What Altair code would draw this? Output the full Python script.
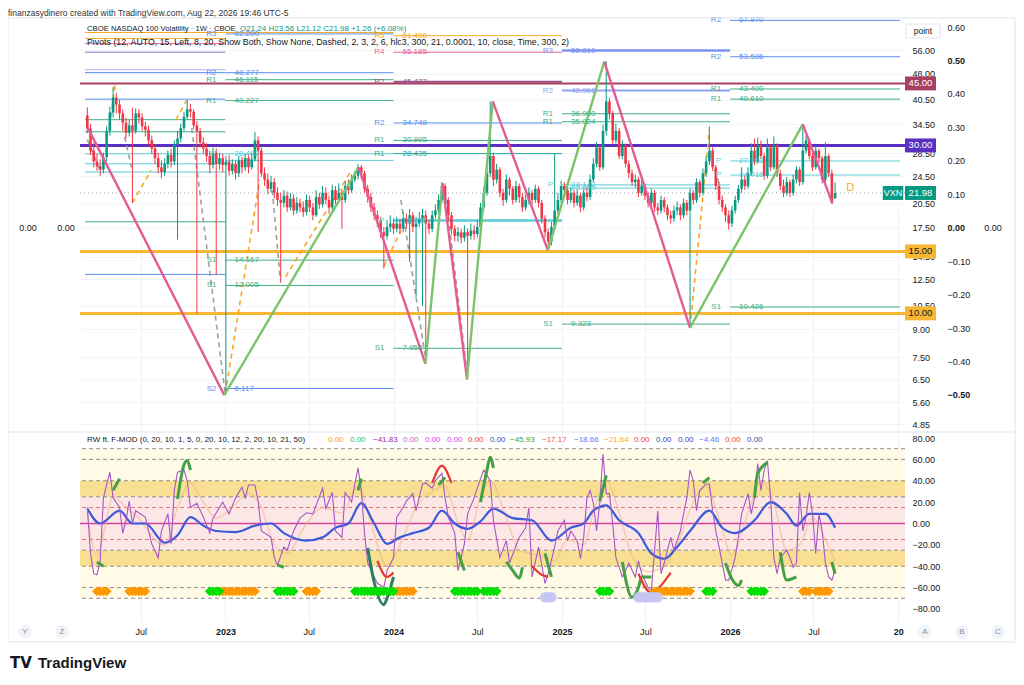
import altair as alt
import numpy as np
import pandas as pd

FONT = "Liberation Sans"
TXT = "#131722"
OX, OY = 80, 18          # page position of the plot origin
W, H = 825, 604

# ---------------------------------------------------------------- data
week0 = "2022-03-07"
first_open = 36.5
last_open = 21.24
closes = [
33.5, 29.0, 27.0, 26.2, 25.6, 27.8, 33.0, 37.2, 41.0, 39.2,
37.0, 34.8, 32.6, 34.2, 33.0, 37.0, 36.0, 34.0, 33.2, 31.0,
29.4, 27.6, 26.0, 25.2, 26.6, 28.2, 27.0, 30.2, 31.4, 33.6,
36.2, 38.0, 37.4, 34.2, 33.0, 30.6, 29.4, 28.0, 26.4, 28.6,
26.6, 27.6, 26.4, 27.0, 25.4, 26.6, 25.0, 27.2, 26.0, 27.6,
26.0, 27.4, 31.0, 29.0, 25.0, 24.0, 22.6, 23.6, 22.0, 21.0,
20.6, 21.6, 20.0, 21.2, 19.6, 20.6, 20.0, 19.4, 21.0, 20.0,
19.0, 21.4, 20.4, 22.0, 21.0, 20.0, 22.4, 21.0, 22.0, 21.0,
23.0, 22.4, 24.0, 24.6, 26.0, 25.0, 22.6, 21.4, 20.0, 19.0,
18.4, 17.0, 16.6, 17.6, 18.0, 17.4, 18.0, 17.4, 18.6, 18.0,
19.0, 17.6, 18.0, 18.6, 19.0, 18.0, 17.4, 19.0, 19.6, 21.0,
23.0, 21.0, 19.0, 17.4, 16.6, 17.0, 16.4, 17.0, 16.6, 17.2,
16.8, 17.6, 20.0, 22.0, 25.0, 28.0, 24.0, 25.6, 22.0, 21.0,
24.0, 22.6, 21.0, 23.0, 21.4, 20.0, 21.0, 22.0, 21.0, 22.6,
20.6, 18.6, 17.0, 16.0, 17.6, 19.6, 21.0, 23.0, 22.4, 21.0,
22.0, 20.6, 21.6, 20.0, 22.0, 21.4, 24.0, 26.6, 29.6, 26.0,
33.0, 40.0, 37.0, 31.0, 33.0, 28.0, 30.0, 26.6, 25.0, 23.6,
24.0, 22.0, 23.0, 21.6, 20.6, 22.0, 20.0, 19.6, 21.0, 20.0,
19.0, 18.6, 19.6, 20.0, 19.0, 20.6, 19.6, 22.0, 21.0, 23.6,
22.0, 25.0, 27.0, 29.0, 26.0, 23.0, 21.0, 20.0, 19.0, 18.0,
19.6, 21.0, 22.6, 24.0, 23.0, 25.0, 29.0, 27.0, 30.0, 28.0,
24.6, 29.6, 26.0, 30.0, 25.0, 23.0, 22.0, 23.6, 22.0, 24.0,
25.6, 23.6, 29.0, 31.0, 28.0, 26.0, 29.0, 27.6, 24.0, 28.0,
25.0, 20.72, 21.98]
highs = [
38.5, 34.5, 30.5, 28.4, 27.4, 28.6, 34.0, 38.6, 44.0, 42.4,
40.4, 38.0, 36.0, 35.4, 38.4, 38.2, 38.0, 37.0, 35.0, 34.2,
32.0, 30.2, 28.6, 27.2, 27.6, 29.0, 29.4, 31.0, 33.0, 34.6,
37.4, 40.4, 39.4, 38.0, 35.2, 33.6, 31.6, 30.4, 29.0, 29.6,
29.4, 28.6, 28.4, 28.0, 28.2, 27.4, 27.2, 28.0, 27.8, 28.4,
28.2, 28.6, 32.8, 31.8, 29.6, 26.0, 25.0, 24.6, 24.2, 22.8,
22.0, 22.4, 22.2, 22.0, 21.8, 21.4, 21.2, 20.8, 21.8, 21.6,
20.6, 22.4, 22.0, 23.0, 22.8, 21.6, 23.2, 23.0, 23.4, 22.6,
23.8, 24.0, 24.8, 25.4, 26.6, 26.4, 25.4, 23.2, 22.0, 20.6,
19.6, 18.8, 17.6, 18.4, 19.0, 18.6, 18.8, 18.6, 19.4, 19.2,
19.8, 19.4, 18.8, 19.4, 19.8, 19.6, 18.4, 19.6, 20.4, 21.8,
23.6, 23.4, 21.4, 19.4, 17.8, 17.6, 17.4, 17.8, 17.4, 18.0,
17.8, 18.4, 20.6, 22.8, 26.4, 40.0, 28.6, 26.6, 26.0, 22.6,
24.8, 24.4, 23.0, 23.8, 23.4, 22.0, 21.8, 22.8, 22.4, 23.2,
23.0, 21.0, 19.0, 17.4, 18.2, 28.4, 22.0, 23.8, 23.6, 22.8,
22.8, 22.4, 22.4, 22.0, 22.6, 22.8, 24.8, 27.6, 30.6, 30.0,
34.4, 52.0, 41.0, 37.6, 34.6, 33.6, 31.0, 30.4, 27.2, 25.6,
24.8, 24.4, 23.8, 23.4, 22.0, 22.6, 22.4, 20.6, 21.6, 21.4,
20.4, 19.6, 20.2, 20.8, 20.4, 21.2, 21.0, 22.6, 22.4, 24.2,
24.0, 25.8, 28.0, 34.0, 29.6, 26.4, 23.6, 21.6, 20.4, 19.6,
20.2, 21.6, 23.2, 26.0, 24.6, 26.0, 30.4, 31.4, 31.6, 31.0,
28.6, 31.4, 30.2, 31.8, 30.4, 25.6, 24.0, 24.4, 24.0, 24.8,
26.2, 26.0, 34.5, 32.0, 31.4, 28.6, 30.0, 29.4, 28.0, 30.6,
28.4, 25.6, 23.56]
lows = [
32.5, 28.2, 26.0, 25.4, 24.6, 25.0, 27.0, 32.0, 36.0, 37.0,
35.6, 33.0, 31.4, 31.8, 20.6, 32.4, 34.6, 33.0, 31.8, 30.0,
28.4, 26.6, 25.0, 24.2, 24.6, 25.8, 26.0, 26.4, 16.2, 30.6,
33.0, 35.6, 36.0, 33.4, 10.0, 29.6, 28.4, 27.0, 25.0, 25.8,
12.9, 25.6, 25.2, 5.9, 24.6, 24.8, 24.0, 24.4, 25.0, 25.4,
25.0, 25.6, 27.0, 17.0, 24.4, 23.0, 21.8, 22.0, 21.2, 20.2,
12.2, 20.0, 19.4, 19.6, 19.0, 19.2, 19.4, 18.8, 19.0, 19.4,
18.4, 18.8, 19.8, 20.0, 20.4, 19.2, 19.6, 20.4, 20.6, 17.4,
20.6, 21.8, 22.0, 23.6, 24.0, 24.0, 22.0, 20.6, 19.4, 18.4,
17.6, 16.4, 13.4, 16.2, 17.0, 16.8, 17.0, 16.8, 17.0, 17.4,
14.0, 17.0, 11.1, 17.6, 10.5, 7.2, 16.8, 17.0, 18.6, 19.2,
20.6, 20.4, 18.4, 16.8, 16.0, 16.0, 15.8, 16.0, 6.5, 16.2,
16.2, 16.4, 17.2, 19.6, 21.6, 24.4, 23.0, 23.4, 21.4, 20.2,
20.6, 21.6, 20.4, 20.6, 20.6, 19.4, 19.6, 20.4, 20.4, 20.6,
20.0, 18.0, 16.4, 15.2, 15.6, 17.2, 19.2, 20.6, 21.6, 20.4,
20.6, 20.0, 20.2, 19.4, 19.6, 20.8, 21.0, 23.6, 26.0, 25.4,
25.6, 32.0, 35.6, 30.2, 30.4, 27.4, 27.4, 26.0, 24.2, 23.0,
22.8, 21.4, 21.6, 21.0, 20.0, 20.2, 19.4, 19.0, 19.2, 19.4,
18.4, 18.0, 18.2, 19.0, 18.4, 18.6, 19.0, 9.1, 20.4, 20.6,
21.4, 21.6, 24.4, 26.4, 25.4, 22.4, 20.4, 19.4, 18.2, 17.3,
17.6, 19.2, 20.6, 22.0, 22.4, 22.6, 24.6, 26.4, 26.6, 27.4,
24.0, 24.2, 25.4, 25.6, 24.4, 22.4, 21.4, 21.6, 21.4, 21.6,
23.4, 23.0, 23.2, 28.4, 27.4, 25.4, 25.6, 26.8, 23.4, 23.6,
24.4, 20.5, 21.12]

# zigzag vertices (week index, value)
zz_week = [0.2, 42.5, 84.2, 104.9, 110.2, 117.8, 125.8, 142.9, 160.4, 187.0, 222.0, 231.2]
zz_value = [33.6, 5.86, 26.0, 7.2, 23.4, 6.5, 40.0, 15.1, 51.9, 9.1, 34.5, 20.5]

orange_dash = [[(6.9, 34.0), (8.6, 44.5)], [(14.0, 20.6), (19.8, 25.5)], [(27.5, 35.5), (30.8, 40.3)],
               [(42.8, 5.9), (53.5, 23.9)], [(61.5, 12.7), (82.0, 25.5)], [(92.0, 13.6), (97.3, 17.2)],
               [(187.0, 9.1), (193.0, 33.2)]]
gray_dash = [[(0.0, 31.2), (3.9, 25.5)], [(11.6, 31.7), (13.7, 26.0)], [(32.4, 33.6), (42.8, 5.9)],
             [(57.4, 22.4), (59.9, 12.4)], [(97.3, 21.0), (105.0, 7.4)], [(111.0, 22.4), (118.0, 6.6)],
             [(193.0, 28.6), (196.0, 23.4)]]

level_values = [45, 30, 15, 10]
level_colors = ["#a8405f", "#5b2fc2", "#f7b733", "#f7b733"]
last_price = 21.98

period_start = ["2022-03-02", "2023-01-01", "2024-01-01", "2025-01-01", "2026-01-01"]
period_end = ["2023-01-01", "2024-01-01", "2025-01-01", "2026-01-01", "2027-01-05"]
piv_period = [0]*15 + [1]*10 + [2]*8 + [3]*7 + [4]*7
piv_value = [62.8, 60.4, 58.4, 55.2, 49.2, 48.3, 40.6, 35.5, 32.8, 28.4, 26.6, 25.2, 18.2, 12.9, 10.0,
             62.8, 62.2, 48.277, 46.115, 40.227, 28.402, 27.2, 14.167, 12.005, 6.117,
             61.498, 55.185, 45.477, 34.748, 30.995, 28.435, 18.352, 7.958,
             55.810, 42.966, 36.900, 35.024, 23.172, 22.690, 9.323,
             67.97, 53.586, 43.400, 40.610, 27.102, 24.716, 10.426]
piv_label = [None]*15 + \
            [None, "R3", "R2", "R1", "R1", "P", None, "S1", "S1", "S2"] + \
            ["R5", "R4", "R2", "R2", "R1", "R1", "P", "S1"] + \
            ["R3", "R2", "R1", "R1", "P", "", "S1"] + \
            ["R2", "R2", "R1", "R1", "P", "P", "S1"]
piv_color = ["#f7a823", "#f7a823", "#ec6a9b", "#8e7cc3", "#a9b2f0", "#5b8ff0", "#5b8ff0", "#3fae85", "#3fae85",
             "#5ccbd8", "#5ccbd8", "#5ccbd8", "#3fae85", "#5b8ff0", "#2e8b57",
             "#f7a823", "#5b8ff0", "#5b8ff0", "#3fae85", "#3fae85", "#5ccbd8", "#5ccbd8", "#3fae85", "#3fae85", "#5b8ff0",
             "#f7a823", "#ec5f95", "#9c4f8a", "#5b8ff0", "#3fae85", "#26a69a", "#5ccbd8", "#3fae85",
             "#7f92ef", "#8fa4f3", "#3fae85", "#3fae85", "#5ccbd8", "#5ccbd8", "#3fae85",
             "#5b8ff0", "#5b8ff0", "#3fae85", "#3fae85", "#5ccbd8", "#5ccbd8", "#3fae85"]
piv_width = [1]*27 + [2] + [1]*3 + [2.5] + [1] + [2.5, 2] + [1]*5 + [1]*7

# oscillator
osc_week = [0, 1, 2, 3, 4, 5, 7, 8, 10, 11, 12, 13, 14, 15, 18, 20, 22, 23, 25, 26, 27, 28, 30, 31, 32, 34, 36, 38, 39,
            42, 44, 46, 48, 49, 50, 52, 53, 54, 57, 58, 59, 61, 62, 64, 66, 68, 70, 73, 74, 76, 77, 79, 80, 82, 83, 84,
            85, 86, 87, 89, 90, 92, 93, 95, 96, 98, 99, 101, 102, 104, 105, 107, 108, 110, 111, 112, 114, 115, 117,
            118, 120, 122, 123, 125, 126, 128, 130, 131, 134, 136, 137, 138, 140, 142, 143, 145, 146, 148, 149, 150,
            152, 153, 154, 155, 156, 157, 158, 159, 160, 161, 162, 163, 164, 166, 167, 168, 170, 171, 172, 174, 175,
            177, 178, 179, 181, 182, 184, 185, 186, 187, 188, 189, 190, 192, 193, 194, 195, 197, 198, 199, 201, 202,
            203, 205, 206, 207, 208, 209, 210, 211, 212, 213, 214, 215, 217, 218, 219, 220, 221, 222, 223, 224, 225,
            226, 227, 228, 229, 230, 231, 232]
osc_value = [15, -28, -47, -48, -35, 24, 48, 24, 15, -9, 3, 21, 0, 12, 6, -19, -32, -7, 9, -19, 31, 48, 50, 40, 15, 19,
             6, -9, 5, 20, 9, 24, 34, 24, 36, 36, 21, -7, -13, -32, -39, -22, -25, -7, 5, 10, 9, 33, 14, 29, -7, -13,
             29, 20, 37, 52, 31, -9, -37, -50, -56, -60, -44, -32, 6, 15, 21, 28, 12, 37, 38, 33, 40, 47, 24, 6, -9,
             -44, -19, 9, 24, 42, 50, 40, 3, -32, -16, -37, -13, -4, 15, -50, -22, -56, -47, -22, -7, 3, -16, -7, -16,
             -33, -13, 24, 31, 19, -7, 19, 65, 28, 28, 0, -32, -50, -44, -37, -50, -35, -47, -60, -63, 12, -47, -37,
             -13, -25, -7, 9, 24, 50, 40, 12, 31, 37, 37, 12, -7, -37, -53, -53, -32, -13, 9, 28, 9, 24, 56, 31, 50, 59,
             24, -32, -47, -32, -25, -32, -41, -37, 29, -7, 6, 29, 9, -28, 9, -7, -37, -50, -53, -44]
blue_week = [0, 4, 10, 14, 18, 24, 28, 32, 36, 40, 46, 52, 57, 61, 68, 73, 77, 81, 85, 89, 93, 97, 101, 106, 110, 114,
             118, 122, 126, 132, 138, 144, 150, 154, 157, 161, 165, 171, 175, 179, 183, 187, 193, 197, 201, 207, 212,
             217, 220, 224, 229, 232]
blue_value = [14, 0, 12, 0, 0, -18, -11, 6, -2, -7, -8, -2, 0, -9, -16, -13, -4, 0, 19, 0, -19, -13, -9, -4, 12, 0,
              -5, 2, 14, 5, 3, -16, -4, 0, 12, 17, 3, -9, -28, -33, -22, -7, 12, -4, -9, 3, 20, 9, -2, 9, 9, -4]
faint_week = [0, 3, 5, 8, 12, 16, 21, 24, 28, 32, 36, 40, 45, 50, 54, 58, 62, 67, 73, 79, 84, 88, 93, 97, 102, 107,
              111, 115, 118, 122, 125, 130, 134, 140, 145, 149, 154, 157, 161, 165, 169, 174, 179, 183, 188, 192, 196,
              200, 205, 209, 213, 217, 221, 225, 229, 232]
faint_value = [10, -30, -10, 25, 15, 5, -15, -20, 15, 38, 20, 5, 15, 28, 15, -20, -28, -5, 15, 10, 35, 0, -40, -20,
               15, 30, 35, 0, -15, 25, 40, 5, -25, -30, -35, -15, -20, 10, 40, 10, -30, -45, -40, -20, 20, 35, 5,
               -30, 10, 40, 20, -25, -20, 5, -15, -35]
green_segs = [[(3, -36), (5, -40)], [(8, 31), (10, 42)], [(28, 23), (30, 55), (31, 59), (32, 50)],
              [(59, -39), (61, -41)], [(84, 31), (85, 42)], [(109, 36), (111, 43)], [(115, -27), (117, -44)],
              [(122, 20), (124, 50), (125, 62), (126, 52)], [(130, -36), (132, -44), (134, -51), (135, -41)],
              [(142, -28), (144, -50)], [(159, 21), (161, 45)],
              [(166, -36), (169, -69), (171, -60), (172, -50), (175, -50)], [(191, 38), (193, 43)],
              [(198, -37), (200, -52), (202, -58), (203, -53)], [(207, 24), (208, 47), (211, 57)],
              [(215, -27), (217, -53), (220, -50)], [(231, -36), (232, -47)]]
teal_segs = [[(87, -23), (89, -55), (92, -76), (93, -70), (95, -50)]]
red_segs = [[(90, -35), (93, -50), (95, -46)], [(107, 38), (110, 54), (113, 38)],
            [(138, -40), (141, -48), (143, -50)], [(171, -47), (175, -65), (178, -58), (181, -46)]]
orange_dia = [3, 4, 5, 6, 13, 14, 15, 16, 17, 18, 42, 43, 44, 45, 46, 47, 48, 49, 50, 51, 52, 68, 69, 70, 71,
              96, 97, 98, 99, 100, 101, 176, 177, 178, 179, 180, 181, 182, 183, 184, 185, 186, 187,
              222, 223, 224, 226, 227, 228, 229, 230]
green_dia = [38, 39, 40, 41, 59, 60, 61, 62, 63, 64, 83, 84, 85, 86, 87, 88, 89, 90, 91, 92, 93, 94, 95,
             114, 115, 116, 117, 118, 119, 120, 121, 123, 124, 125, 126, 127, 159, 160, 161, 162,
             192, 193, 194, 206, 207, 208, 209, 210]
lav_dots = [142, 143, 144, 171, 172, 173, 174, 175, 176, 177]
osc_dash_levels = [70, 60, 40, 25, -25, -40, -60, -70]
osc_pink_levels = [15, -15]

legend_vals = ["0.00", "0.00", "\u221241.83", "0.00", "0.00", "0.00", "0.00", "0.00", "\u221245.93", "\u221217.17",
               "\u221218.66", "\u221221.64", "0.00", "0.00", "0.00", "\u22124.46", "0.00", "0.00"]
legend_cols = ["#ff9800", "#22c55e", "#9c27b0", "#ba68c8", "#e040fb", "#e040fb", "#f44336", "#3949ab", "#43a047",
               "#ef5350", "#5c7cfa", "#ffa726", "#f44336", "#3949ab", "#3949ab", "#5c7cfa", "#f44336", "#3949ab"]
legend_x = [328, 350, 373, 403, 425, 447, 468, 490, 510, 542, 574, 604, 634, 656, 678, 699, 725, 747]

# ---------------------------------------------------------------- helpers
T0 = pd.Timestamp(week0)
def wk(w):
    return T0 + pd.Timedelta(days=7 * float(w))

XS = alt.Scale(domain=[alt.DateTime(year=2022, month=3, date=2), alt.DateTime(year=2027, month=1, date=5)])
tick_dates = [alt.DateTime(year=y, month=m, date=1) for y, m in
              [(2022, 7), (2023, 1), (2023, 7), (2024, 1), (2024, 7), (2025, 1), (2025, 7), (2026, 1), (2026, 7), (2027, 1)]]
XAX = alt.Axis(values=tick_dates, title=None, domain=False, ticks=False, grid=True, gridColor="#f0f3fa",
               labelFontSize=9, labelColor=TXT, labelPadding=5, labelFlush=False, labelFont=FONT,
               labelExpr="month(datum.value) == 0 ? (year(datum.value) == 2027 ? '20' : timeFormat(datum.value, '%Y')) : 'Jul'",
               labelFontWeight={"condition": {"test": "month(datum.value) == 0", "value": "bold"}, "value": "normal"})
def X(f):
    return alt.X(f, scale=XS, axis=XAX)

YT = alt.Scale(type="log", domain=[4.633, 69.04], range=[413, 0], nice=False, zero=False)
YTAX = alt.Axis(orient="right", values=[56, 48, 40.5, 34.5, 28.5, 24.5, 20.5, 17.5, 14.5, 12.5, 10.5, 9, 7.5, 6.5, 5.6, 4.85],
                format=".2f", domain=False, ticks=False, grid=True, gridColor="#f2f4f8", labelPadding=7,
                labelFontSize=9, labelColor=TXT, title=None, labelOverlap=False, labelFont=FONT)
def YTop(f):
    return alt.Y(f, scale=YT, axis=YTAX)

YB = alt.Scale(domain=[-92.2, 84.7], range=[604, 415], nice=False, zero=False)
YBAX = alt.Axis(orient="right", values=list(range(-80, 81, 20)), format=".2f", domain=False, ticks=False, grid=False,
                labelPadding=7, labelFontSize=9, labelColor=TXT, title=None, labelOverlap=False, labelFont=FONT)
def YBot(f):
    return alt.Y(f, scale=YB, axis=YBAX)

YS = alt.Scale(domain=[-0.608, 0.627], range=[413, 0], nice=False, zero=False)
YSAX = alt.Axis(orient="right", offset=40, values=[0.6, 0.5, 0.4, 0.3, 0.2, 0.1, 0.0, -0.1, -0.2, -0.3, -0.4, -0.5],
                format=".2f", domain=False, ticks=False, grid=False, labelPadding=2, labelFontSize=9, labelColor=TXT,
                title=None, labelOverlap=False, labelFont=FONT,
                labelFontWeight={"condition": {"test": "abs(datum.value) < 0.001 || abs(abs(datum.value) - 0.5) < 0.001",
                                               "value": "bold"}, "value": "normal"})

ONE = pd.DataFrame({"k": [0]})
def T(s, px, py, size=8, color=TXT, align="left", weight="normal", font=FONT):
    return alt.Chart(ONE).mark_text(text=s, align=align, baseline="middle", fontSize=size, color=color,
                                    fontWeight=weight, font=font).encode(x=alt.value(px - OX), y=alt.value(py - OY))

def segs_df(seglist):
    rows = []
    for k, s in enumerate(seglist):
        for j, (w, v) in enumerate(s):
            rows.append({"seg": k, "ord": j, "date": wk(w), "v": v})
    return pd.DataFrame(rows)

def pairs_df(seglist):
    return pd.DataFrame([{"x0": wk(a[0]), "x1": wk(b[0]), "y0": a[1], "y1": b[1]} for a, b in seglist])

# ---------------------------------------------------------------- top panel
n = len(closes)
assert len(highs) == n and len(lows) == n
opens = [first_open] + closes[:n - 2] + [last_open]
cdf = pd.DataFrame({"date": [wk(i) for i in range(n)], "open": opens, "high": highs, "low": lows, "close": closes})
cdf["col"] = np.where(cdf["close"] >= cdf["open"], "#089981", "#f23645")

piv = pd.DataFrame({"period": piv_period, "value": piv_value, "label": piv_label, "color": piv_color, "w": piv_width})
piv["start"] = pd.to_datetime([period_start[p] for p in piv["period"]])
piv["end"] = pd.to_datetime([period_end[p] for p in piv["period"]])
piv["vtext"] = [f"{v:.3f}" for v in piv["value"]]
pivl = piv[piv["label"].notna()].copy()

piv_lines = alt.Chart(piv).mark_rule().encode(
    x=X("start:T"), x2="end:T", y=YTop("value:Q"),
    color=alt.Color("color:N", scale=None), strokeWidth=alt.StrokeWidth("w:Q", scale=None))
piv_lab = alt.Chart(pivl).mark_text(align="right", dx=-9, fontSize=8, font=FONT, baseline="middle").encode(
    x=X("start:T"), y=YTop("value:Q"), text="label:N", color=alt.Color("color:N", scale=None))
piv_val = alt.Chart(pivl).mark_text(align="left", dx=9, fontSize=8, font=FONT, baseline="middle").encode(
    x=X("start:T"), y=YTop("value:Q"), text="vtext:N", color=alt.Color("color:N", scale=None))

lv = pd.DataFrame({"v": level_values, "c": level_colors, "w": [2, 3, 3, 3]})
levels = alt.Chart(lv).mark_rule().encode(y=YTop("v:Q"), color=alt.Color("c:N", scale=None),
                                          strokeWidth=alt.StrokeWidth("w:Q", scale=None))
pline = alt.Chart(pd.DataFrame({"v": [last_price]})).mark_rule(color="#9aa0a6", strokeDash=[1, 3], strokeWidth=1).encode(
    y=YTop("v:Q"))

od = pairs_df(orange_dash)
gd = pairs_df(gray_dash)
odash = alt.Chart(od).mark_rule(color="#f7a823", strokeDash=[5, 4], strokeWidth=1.6).encode(
    x=X("x0:T"), x2="x1:T", y=YTop("y0:Q"), y2="y1:Q")
gdash = alt.Chart(gd).mark_rule(color="#9e9e9e", strokeDash=[5, 4], strokeWidth=1.6).encode(
    x=X("x0:T"), x2="x1:T", y=YTop("y0:Q"), y2="y1:Q")

wick = alt.Chart(cdf).mark_rule(strokeWidth=1).encode(
    x=X("date:T"), y=YTop("low:Q"), y2="high:Q", color=alt.Color("col:N", scale=None))
body = alt.Chart(cdf).mark_bar(size=2.6).encode(
    x=X("date:T"), y=YTop("open:Q"), y2="close:Q", color=alt.Color("col:N", scale=None))

zzp = [(zz_week[k], zz_value[k]) for k in range(len(zz_week))]
zzdf = pd.DataFrame([{"x0": wk(a[0]), "x1": wk(b[0]), "y0": a[1], "y1": b[1],
                      "c": "#7cc36a" if b[1] > a[1] else "#e45c92"} for a, b in zip(zzp[:-1], zzp[1:])])
zz = alt.Chart(zzdf).mark_rule(strokeWidth=2.4).encode(
    x=X("x0:T"), x2="x1:T", y=YTop("y0:Q"), y2="y1:Q", color=alt.Color("c:N", scale=None))

tags = pd.DataFrame({"v": level_values + [last_price], "bg": level_colors + ["#089981"],
                     "fg": ["white", "white", TXT, TXT, "white"],
                     "t": [f"{v:.2f}" for v in level_values + [last_price]]})
BOX = "M-1,-0.45H1V0.45H-1Z"
tag_box = alt.Chart(tags).mark_point(shape=BOX, filled=True, size=961, opacity=1, strokeWidth=0).encode(
    x=alt.value(840.5), y=YTop("v:Q"), color=alt.Color("bg:N", scale=None))
tag_txt = alt.Chart(tags).mark_text(fontSize=9.5, font=FONT, baseline="middle").encode(
    x=alt.value(840.5), y=YTop("v:Q"), text="t:N", color=alt.Color("fg:N", scale=None))
vxn = pd.DataFrame({"v": [last_price]})
vxn_box = alt.Chart(vxn).mark_point(shape="M-1,-0.68H1V0.68H-1Z", filled=True, size=420, opacity=1,
                                    color="#089981", strokeWidth=0).encode(x=alt.value(813), y=YTop("v:Q"))
vxn_txt = alt.Chart(vxn).mark_text(text="VXN", fontSize=9, color="white", font=FONT, baseline="middle").encode(
    x=alt.value(813), y=YTop("v:Q"))
dlab = alt.Chart(pd.DataFrame({"d": [pd.Timestamp("2026-09-19")], "v": [22.7]})).mark_text(
    text="D", fontSize=11, color="#f7a823", font=FONT).encode(x=X("d:T"), y=YTop("v:Q"))

top = alt.layer(piv_lines, levels, pline, gdash, odash, wick, body, zz, piv_lab, piv_val,
                tag_box, tag_txt, vxn_box, vxn_txt, dlab)

# ---------------------------------------------------------------- bottom panel
bands = pd.DataFrame({"lo": [-70, 25, -40, -25], "hi": [70, 40, -25, 25],
                      "c": ["#fffbe6", "#f8df92", "#f8df92", "#fbe8e6"]})
band = alt.Chart(bands).mark_rect().encode(y=YBot("lo:Q"), y2="hi:Q", color=alt.Color("c:N", scale=None))
gl = alt.Chart(pd.DataFrame({"v": osc_dash_levels})).mark_rule(color="#8d8d8d", strokeDash=[4, 3], strokeWidth=1).encode(
    y=YBot("v:Q"))
pl = alt.Chart(pd.DataFrame({"v": osc_pink_levels})).mark_rule(color="#e57373", strokeDash=[4, 3], strokeWidth=1).encode(
    y=YBot("v:Q"))
zl = alt.Chart(pd.DataFrame({"v": [0]})).mark_rule(color="#d6409f", strokeWidth=1.5).encode(y=YBot("v:Q"))

odf = pd.DataFrame({"date": [wk(w) for w in osc_week], "v": osc_value})
bdf = pd.DataFrame({"date": [wk(w) for w in blue_week], "v": blue_value})
fdf = pd.DataFrame({"date": [wk(w) for w in faint_week], "v": faint_value})
faint = alt.Chart(fdf).mark_line(color="#f2b48a", strokeWidth=1.6, opacity=0.55, interpolate="monotone").encode(
    x=X("date:T"), y=YBot("v:Q"))
purple = alt.Chart(odf).mark_line(color="#a855c7", strokeWidth=1.1).encode(x=X("date:T"), y=YBot("v:Q"))
blue = alt.Chart(bdf).mark_line(color="#3b5bdb", strokeWidth=2.2, interpolate="monotone").encode(
    x=X("date:T"), y=YBot("v:Q"))
def seg_layer(sl, color, width):
    return alt.Chart(segs_df(sl)).mark_line(color=color, strokeWidth=width, interpolate="monotone").encode(
        x=X("date:T"), y=YBot("v:Q"), detail="seg:N", order="ord:Q")
gsl = seg_layer(green_segs, "#43a047", 3)
tsl = seg_layer(teal_segs, "#2e7d6b", 3)
rsl = seg_layer(red_segs, "#e53935", 2.2)
dia = pd.DataFrame({"date": [wk(w) for w in orange_dia + green_dia],
                    "v": [-63.5] * (len(orange_dia) + len(green_dia)),
                    "c": ["#ff9800"] * len(orange_dia) + ["#00e000"] * len(green_dia)})
dias = alt.Chart(dia).mark_point(shape="diamond", filled=True, size=95, opacity=1, strokeWidth=0).encode(
    x=X("date:T"), y=YBot("v:Q"), color=alt.Color("c:N", scale=None))
lav = alt.Chart(pd.DataFrame({"date": [wk(w) for w in lav_dots], "v": [-69] * len(lav_dots)})).mark_circle(
    size=110, color="#c5c4f4", opacity=0.9).encode(x=X("date:T"), y=YBot("v:Q"))

bot = alt.layer(band, gl, pl, zl, faint, blue, purple, gsl, tsl, rsl, dias, lav)

# ---------------------------------------------------------------- secondary scale
sz = pd.DataFrame({"v": [0.0]})
sec = alt.layer(
    alt.Chart(sz).mark_text(text="0.00", fontSize=9, color=TXT, font=FONT, baseline="middle").encode(
        x=alt.value(28 - OX), y=alt.Y("v:Q", scale=YS, axis=YSAX)),
    alt.Chart(sz).mark_text(text="0.00", fontSize=9, color=TXT, font=FONT, baseline="middle").encode(
        x=alt.value(66 - OX), y=alt.Y("v:Q", scale=YS, axis=YSAX)),
    alt.Chart(sz).mark_text(text="0.00", fontSize=9, color=TXT, font=FONT, baseline="middle").encode(
        x=alt.value(993 - OX), y=alt.Y("v:Q", scale=YS, axis=YSAX)),
)

# ---------------------------------------------------------------- annotations
def R(x0, y0, x1, y1, fill="none", stroke=None, sw=1, radius=0):
    kw = dict(fill=fill, cornerRadius=radius)
    if stroke:
        kw.update(stroke=stroke, strokeWidth=sw)
    return alt.Chart(ONE).mark_rect(**kw).encode(x=alt.value(x0 - OX), x2=alt.value(x1 - OX),
                                                  y=alt.value(y0 - OY), y2=alt.value(y1 - OY))
def C(px, py, letter):
    return [alt.Chart(ONE).mark_point(shape="circle", filled=True, size=190, color="#f0f3fa", opacity=1).encode(
                x=alt.value(px - OX), y=alt.value(py - OY)),
            T(letter, px, py, size=8, color="#8a8f98", align="center")]

ann = [R(8, 18, 1015, 642, fill="transparent", stroke="#e0e3eb"),
       alt.Chart(ONE).mark_rule(color="#e0e3eb").encode(x=alt.value(8 - OX), x2=alt.value(1015 - OX),
                                                         y=alt.value(432 - OY)),
       R(906, 24, 940, 38, fill="white", stroke="#e0e3eb", radius=2),
       T("point", 923, 31, size=8.5, align="center"),
       T("finanzasydinero created with TradingView.com, Aug 22, 2026 19:46 UTC-5", 8, 13, size=8.5, color="#333333"),
       T("CBOE NASDAQ 100 Volatility \u00b7 1W \u00b7 CBOE", 87, 29, size=7.7),
       T("O21.24  H23.56  L21.12  C21.98  +1.26 (+6.08%)", 240, 29, size=8, color="#089981"),
       T("Pivots (12, AUTO, 15, Left, 8, 20, Show Both, Show None, Dashed, 2, 3, 2, 6, hlc3, 300, 21, 0.0001, 10, close, Time, 300, 2)",
         87, 42, size=8.8),
       T("RW ft. F-MOD (0, 20, 10, 1, 5, 0, 20, 10, 12, 2, 20, 10, 21, 50)", 87, 440, size=8),
       T("TV", 10, 663, size=15, weight="bold", font="DejaVu Sans"),
       T("TradingView", 38, 663, size=15, weight="bold", color="#131722")]
for s, c, px in zip(legend_vals, legend_cols, legend_x):
    ann.append(T(s, px, 440, size=8, color=c))
for px, l in [(25, "Y"), (62, "Z"), (925, "A"), (962, "B"), (998, "C")]:
    ann.extend(C(px, 632, l))

chart = alt.layer(top, bot, sec, *ann).resolve_scale(y="independent").properties(
    width=W, height=H, autosize=alt.AutoSizeParams(type="none"),
    padding={"left": OX - 8, "top": OY - 8, "right": 1008 - (OX - 8) - W, "bottom": 52}
).configure_view(stroke=None).configure_text(font=FONT)

chart.save("out.html", embed_options={"renderer": "svg", "actions": False})
